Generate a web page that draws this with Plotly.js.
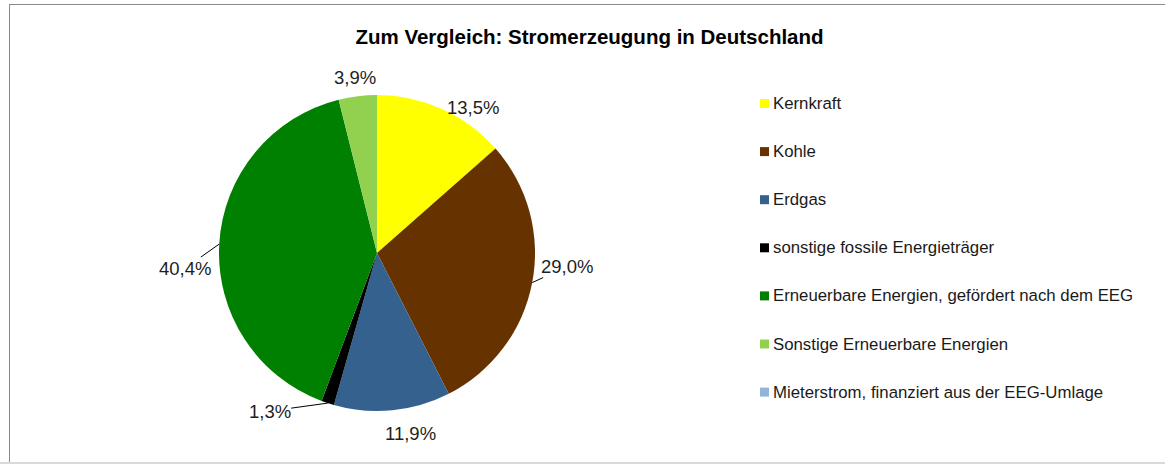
<!DOCTYPE html>
<html>
<head>
<meta charset="utf-8">
<script src="https://cdn.plot.ly/plotly-3.0.1.min.js"></script>
<style>
  html, body { margin: 0; padding: 0; background: #fff; }
  #wrap { position: relative; width: 1165px; height: 464px; overflow: hidden; }
  #chart { width: 1165px; height: 464px; }
  #frame { position: absolute; left: 9px; top: 4px; width: 1170px; height: 457px;
           border-left: 1.5px solid #8a8a8a; border-top: 1.5px solid #8a8a8a; pointer-events: none; }
  #bottomband { position: absolute; left: 0; top: 462px; width: 1165px; height: 2px; background: #d9d9d9; pointer-events: none; }
</style>
</head>
<body>
<div id="wrap">
  <div id="chart"></div>
  <div id="frame"></div>
  <div id="bottomband"></div>
</div>
<script>
const categories = [
  "Kernkraft",
  "Kohle",
  "Erdgas",
  "sonstige fossile Energieträger",
  "Erneuerbare Energien, gefördert nach dem EEG",
  "Sonstige Erneuerbare Energien",
  "Mieterstrom, finanziert aus der EEG-Umlage"
];
const shares = [13.5, 29.0, 11.9, 1.3, 40.4, 3.9, 0.0];
const colors = ["#FFFF00", "#663300", "#35618F", "#000000", "#008000", "#92D050", "#95B3D7"];
const titleText = "Zum Vergleich: Stromerzeugung in Deutschland";

// label styling: pixel nudge of each label from its slice's outer edge midpoint, and leader-line flag
const labelNudge = [[31, -1], [35, -16], [18, 23], [-58, 8], [-34, 24], [-3, -19], [0, 0]];
const labelLeader = [false, true, false, true, true, false, false];

const W = 1165, H = 464;
const px = x => x / W;
const py = y => 1 - y / H;

// pie box in pixels
const pieLeft = 177, pieRight = 577, pieTop = 95, pieBottom = 411;
const cx = (pieLeft + pieRight) / 2, cy = (pieTop + pieBottom) / 2;
const rad = Math.min(pieRight - pieLeft, pieBottom - pieTop) / 2;

const fontFam = 'Liberation Sans, Arial, sans-serif';

const trace = {
  type: 'pie',
  labels: categories,
  values: shares,
  textinfo: 'none',
  sort: false,
  direction: 'clockwise',
  rotation: 0,
  showlegend: false,
  marker: { colors: colors, line: { width: 0 } },
  domain: { x: [px(pieLeft), px(pieRight)], y: [py(pieBottom), py(pieTop)] },
  hoverinfo: 'label+percent'
};

const annotations = [];
const shapes = [];

// data labels, placed from the cumulative shares
const total = shares.reduce((a, b) => a + b, 0);
let cum = 0;
shares.forEach((v, i) => {
  const mid = (cum + v / 2) / total * 2 * Math.PI;
  cum += v;
  if (v <= 0) return;
  const ex = cx + rad * Math.sin(mid);
  const ey = cy - rad * Math.cos(mid);
  const txt = v.toFixed(1).replace('.', ',') + '%';
  const [dx, dy] = labelNudge[i];
  const base = {
    xref: 'paper', yref: 'paper', x: px(ex), y: py(ey),
    text: txt, font: { family: fontFam, size: 18.5, color: '#1e1e1e' }
  };
  if (labelLeader[i]) {
    annotations.push(Object.assign(base, {
      showarrow: true, arrowhead: 0, arrowwidth: 1, arrowcolor: '#000000',
      ax: dx, ay: dy, axref: 'pixel', ayref: 'pixel', standoff: 0, startstandoff: 0,
      borderpad: 0
    }));
  } else {
    annotations.push(Object.assign(base, {
      showarrow: false, xanchor: 'center', yanchor: 'middle', xshift: dx, yshift: -dy
    }));
  }
});

// legend built from categories
const legendTop = 103.5, legendStep = 48.1;
categories.forEach((c, i) => {
  const yc = legendTop + i * legendStep;
  annotations.push({
    xref: 'paper', yref: 'paper', x: px(771), y: py(yc),
    xanchor: 'left', yanchor: 'middle', showarrow: false,
    text: c, font: { family: fontFam, size: 16.8, color: '#1a1a1a' }
  });
  shapes.push({
    type: 'rect', xref: 'paper', yref: 'paper',
    x0: px(760), x1: px(769), y0: py(yc - 4.5), y1: py(yc + 4.5),
    fillcolor: colors[i], line: { width: 0 }
  });
});

const layout = {
  width: W, height: H,
  margin: { l: 0, r: 0, t: 0, b: 0 },
  paper_bgcolor: '#ffffff',
  separators: ',.',
  showlegend: false,
  title: {
    text: titleText,
    x: px(589.5), xanchor: 'center',
    y: py(37), yanchor: 'middle',
    font: { family: fontFam, size: 20.5, weight: 'bold', color: '#000000' }
  },
  annotations: annotations,
  shapes: shapes
};

Plotly.newPlot('chart', [trace], layout, { displayModeBar: false, staticPlot: true });
</script>
</body>
</html>
